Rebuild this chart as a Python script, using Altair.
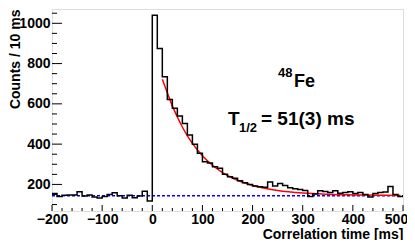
import altair as alt
import pandas as pd

# histogram: counts per 10 ms bin, left edges from -200 to 490
bin_left = list(range(-200, 500, 10))
counts = [155, 140, 146, 147, 148, 163, 142, 148, 138, 132,
          140, 150, 158, 144, 132, 146, 134, 143, 166, 118,
          1040, 875, 735, 622, 578, 540, 503, 445, 400, 355,
          312, 306, 288, 280, 250, 238, 231, 218, 208, 200,
          192, 188, 186, 212, 192, 205, 195, 184, 178, 175,
          170, 140, 152, 168, 165, 160, 168, 156, 160, 163,
          155, 160, 150, 138, 155, 160, 162, 190, 150, 140]

# fit curve points
fit_t = [20, 30, 40, 50, 60, 70, 80, 100, 120, 140, 160, 180, 200, 250, 300, 350, 400, 450, 495]
fit_c = [722, 655, 590, 535, 485, 441, 404, 342, 295, 259, 232, 211, 195, 170, 157, 151, 148, 146, 145]

# flat background level
bg_t = [-200, 500]
bg_c = [144, 144]

x_major = [-200, -100, 0, 100, 200, 300, 400, 500]
x_minor = [v for v in range(-200, 501, 20) if v % 100 != 0]
y_major = [200, 400, 600, 800, 1000]
y_minor = [v for v in range(100, 1071, 50) if v % 200 != 0]

XDOM = [-200, 500]
YDOM = [68, 1071]
W, H = 351, 202
FONT = "Liberation Sans"

hist_df = pd.DataFrame({"t": bin_left + [500], "c": counts + [counts[-1]]})
fit_df = pd.DataFrame({"t": fit_t, "c": fit_c})
bg_df = pd.DataFrame({"t": bg_t, "c": bg_c})

xs = alt.Scale(domain=XDOM, nice=False, zero=False)
ys = alt.Scale(domain=YDOM, nice=False, zero=False)

hist = alt.Chart(hist_df).mark_line(interpolate="step-after", color="black", strokeWidth=1.5, clip=True).encode(
    x=alt.X("t:Q", scale=xs, axis=alt.Axis(
        values=x_major, ticks=False, domain=False, grid=False, format="d",
        labelFont=FONT, labelFontSize=14, labelFontWeight="bold", labelColor="black",
        labelPadding=1, labelFlush=False, labelOverlap=False,
        labelOffset={"condition": {"test": "datum.value == 500", "value": -7}, "value": 0},
        title="Correlation time [ms]", titleFont=FONT, titleFontSize=14, titleFontWeight="bold",
        titleColor="black", titleAlign="right", titleAnchor="end", titleX=W, titleY=27,
        titleBaseline="alphabetic")),
    y=alt.Y("c:Q", scale=ys, axis=alt.Axis(
        values=y_major, ticks=False, domain=False, grid=False, format="d",
        labelFont=FONT, labelFontSize=14, labelFontWeight="bold", labelColor="black",
        labelPadding=2, labelFlush=False, labelOverlap=False,
        title="Counts / 10 ms", titleFont=FONT, titleFontSize=14, titleFontWeight="bold",
        titleColor="black", titleAngle=-90, titleAlign="right", titleBaseline="middle",
        titleX=-37, titleY=0)),
)

fit = alt.Chart(fit_df).mark_line(color="#ff0000", strokeWidth=1.5, interpolate="monotone").encode(
    x=alt.X("t:Q", scale=xs), y=alt.Y("c:Q", scale=ys))

bg = alt.Chart(bg_df).mark_line(color="#0000ff", strokeWidth=1.5, strokeDash=[3, 2]).encode(
    x=alt.X("t:Q", scale=xs), y=alt.Y("c:Q", scale=ys))

def xticks(vals, length):
    return alt.Chart(pd.DataFrame({"v": vals})).mark_rule(color="black", strokeWidth=1).encode(
        x=alt.X("v:Q", scale=xs), y=alt.value(H), y2=alt.value(H - length))

def yticks(vals, length):
    return alt.Chart(pd.DataFrame({"v": vals})).mark_rule(color="black", strokeWidth=1).encode(
        y=alt.Y("v:Q", scale=ys), x=alt.value(0), x2=alt.value(length))

def label(text, x, y, size):
    return alt.Chart(pd.DataFrame({"s": [text]})).mark_text(
        font=FONT, fontSize=size, fontWeight="bold", color="black", align="left", baseline="alphabetic"
    ).encode(text="s:N", x=alt.value(x), y=alt.value(y))

chart = alt.layer(
    bg, fit, hist,
    xticks(x_major, 6), xticks(x_minor, 3),
    yticks(y_major, 10), yticks(y_minor, 5),
    label("48", 226, 68, 13), label("Fe", 242, 78, 18),
    label("T", 176, 116, 19), label("1/2", 187, 123, 13), label("= 51(3) ms", 209, 116, 19),
).properties(
    width=W, height=H,
    autosize=alt.AutoSizeParams(type="none"),
    padding={"left": 44, "top": 1, "right": 4, "bottom": 29},
).configure_view(stroke="black", strokeWidth=2).configure(background="white")

chart.save("out.html", embed_options={"renderer": "svg", "actions": False})
